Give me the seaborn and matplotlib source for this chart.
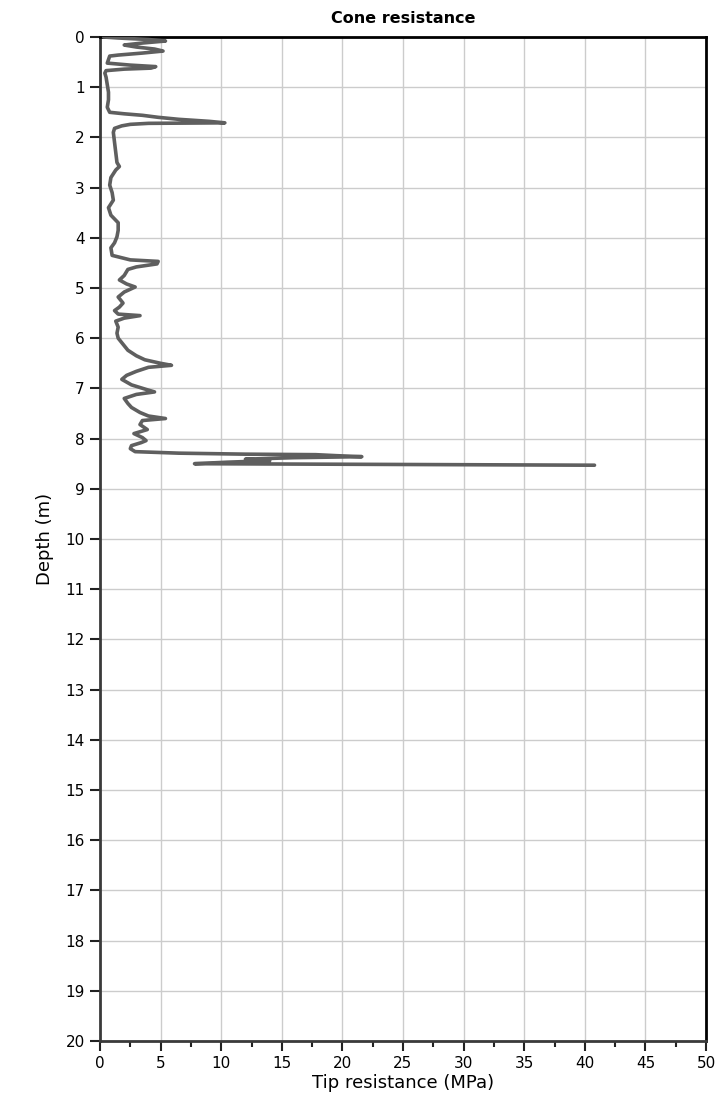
import matplotlib
matplotlib.use("Agg")
import matplotlib.pyplot as plt
from matplotlib.ticker import MultipleLocator
import seaborn as sns
import pandas as pd

# CPT sounding: depth below surface (m) and cone tip resistance qc (MPa)
depth_m = [
    0.00, 0.02, 0.05, 0.08, 0.12, 0.16, 0.20, 0.24, 0.28, 0.32, 0.36, 0.38,
    0.45, 0.52, 0.56, 0.59, 0.62, 0.64, 0.67, 0.72, 0.80, 0.95, 1.10, 1.25,
    1.40, 1.50, 1.53, 1.56, 1.60, 1.64, 1.68, 1.71, 1.72, 1.74, 1.77, 1.82,
    1.90, 2.10, 2.30, 2.50, 2.58, 2.65, 2.80, 2.95, 3.10, 3.25, 3.40, 3.55,
    3.70, 3.85, 3.98, 4.10, 4.20, 4.35, 4.44, 4.47, 4.52, 4.58, 4.63, 4.75,
    4.84, 4.92, 4.98, 5.08, 5.18, 5.30, 5.38, 5.45, 5.52, 5.55, 5.60, 5.66,
    5.78, 5.90, 6.00, 6.12, 6.24, 6.35, 6.43, 6.50, 6.54, 6.58, 6.66, 6.74,
    6.82, 6.93, 7.02, 7.07, 7.12, 7.20, 7.30, 7.38, 7.48, 7.55, 7.60, 7.64,
    7.72, 7.82, 7.90, 7.98, 8.04, 8.08, 8.14, 8.20, 8.26, 8.29, 8.31, 8.32,
    8.34, 8.36, 8.38, 8.41, 8.44, 8.47, 8.50, 8.53,
]
tip_mpa = [
    0.3, 1.5, 4.0, 5.4, 3.5, 2.0, 3.0, 4.5, 5.2, 3.5, 1.5, 0.8,
    0.7, 0.6, 2.5, 4.6, 4.2, 2.0, 0.5, 0.4, 0.5, 0.6, 0.7, 0.7,
    0.6, 0.8, 2.0, 3.5, 4.8, 6.5, 9.0, 10.3, 4.0, 2.5, 1.8, 1.2,
    1.1, 1.2, 1.3, 1.4, 1.6, 1.3, 0.9, 0.8, 1.0, 1.1, 0.7, 0.9,
    1.5, 1.5, 1.4, 1.2, 0.9, 1.0, 2.5, 4.8, 4.7, 3.0, 2.3, 2.0,
    1.6, 2.2, 2.9, 2.0, 1.5, 1.9, 1.6, 1.2, 1.5, 3.3, 2.0, 1.3,
    1.5, 1.4, 1.5, 1.9, 2.3, 3.0, 3.7, 5.0, 5.9, 4.0, 3.0, 2.2,
    1.8, 2.6, 3.8, 4.5, 3.0, 2.0, 2.3, 2.6, 3.3, 4.0, 5.4, 3.5,
    3.3, 3.9, 2.8, 3.5, 3.8, 3.4, 2.6, 2.5, 2.9, 6.5, 12.0, 17.8,
    19.5, 21.6, 16.0, 12.0, 14.0, 10.5, 7.8, 40.8,
]

x_ticks = [0, 5, 10, 15, 20, 25, 30, 35, 40, 45, 50]
y_ticks = list(range(0, 21))

df = pd.DataFrame({"depth": depth_m, "qc": tip_mpa})

sns.set_theme(style="white")
plt.rcParams["font.family"] = ["DejaVu Sans"]
plt.rcParams["text.color"] = "black"
plt.rcParams["axes.labelcolor"] = "black"
plt.rcParams["xtick.color"] = "black"
plt.rcParams["ytick.color"] = "black"

fig = plt.figure(figsize=(7.22, 11.06), dpi=100)
ax = fig.add_axes([100 / 722, 65 / 1106, 606 / 722, 1004 / 1106])

sns.lineplot(data=df, x="qc", y="depth", sort=False, estimator=None,
             color="#5f5f5f", linewidth=2.6, ax=ax, zorder=3)

ax.set_xlim(0, 50)
ax.set_ylim(20, 0)
ax.set_xticks(x_ticks)
ax.set_yticks(y_ticks)
ax.xaxis.set_minor_locator(MultipleLocator(2.5))
ax.grid(True, which="major", color="#cccccc", linewidth=1.0)
ax.set_axisbelow(True)

ax.tick_params(axis="both", which="major", direction="out", length=7,
               width=1.5, color="#222222", labelcolor="black", labelsize=11,
               pad=4, bottom=True, left=True)
ax.tick_params(axis="x", which="minor", direction="out", length=4,
               width=1.5, color="#222222", bottom=True)

for side in ["left", "bottom"]:
    ax.spines[side].set_color("#3a3a3a")
    ax.spines[side].set_linewidth(2.0)
for side in ["top", "right"]:
    ax.spines[side].set_color("#000000")
    ax.spines[side].set_linewidth(2.0)

ax.set_xlabel("Tip resistance (MPa)", fontsize=13, labelpad=2, color="black")
ax.set_ylabel("Depth (m)", fontsize=13, labelpad=8, color="black")
ax.set_title("Cone resistance", fontsize=11.5, fontweight="bold", pad=10,
             color="black")

fig.savefig("out.png", dpi=100)
